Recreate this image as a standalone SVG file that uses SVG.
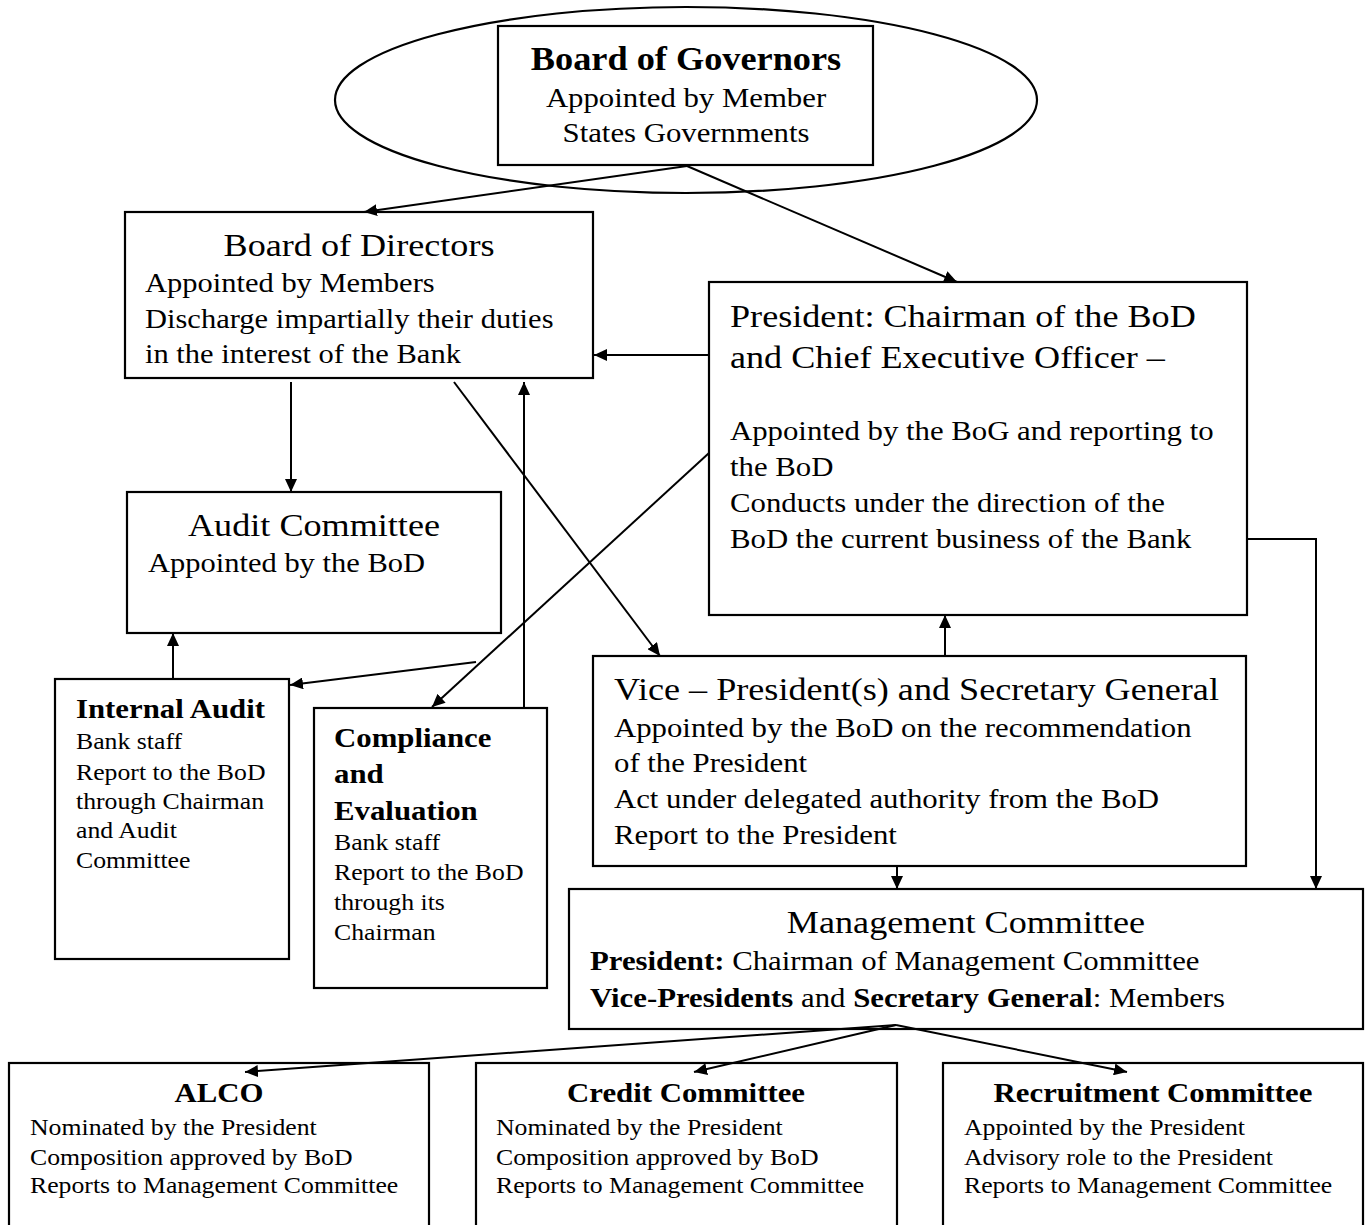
<svg xmlns="http://www.w3.org/2000/svg" width="1368" height="1225" viewBox="0 0 1368 1225">
<style>
text{font-family:"Liberation Serif","Times New Roman",serif;fill:#000}
.c{text-anchor:middle}
.b{font-weight:bold}
.s32{font-size:32px}
.s27{font-size:27px}
.s23{font-size:23px}
.b33{font-size:33px;font-weight:bold}
.b28{font-size:28px;font-weight:bold}
.box{fill:#fff;stroke:#000;stroke-width:2.2}
.ell{fill:none;stroke:#000;stroke-width:2.2}
.con{fill:none;stroke:#000;stroke-width:2;marker-end:url(#ah)}
</style>
<defs>
<marker id="ah" markerUnits="userSpaceOnUse" markerWidth="14" markerHeight="12" refX="13" refY="6" orient="auto">
<path d="M0,0 L13,6 L0,12 z" fill="#000"/>
</marker>
</defs>
<rect width="1368" height="1225" fill="#fff"/>

<g id="bog">
<ellipse class="ell" cx="686" cy="100" rx="351" ry="93"/>
<rect class="box" x="498" y="26" width="375" height="139"/>
<text class="b33 c" transform="translate(686,70) scale(1.1,1)">Board of Governors</text>
<text class="s27 c" transform="translate(686,107) scale(1.14,1)">Appointed by Member</text>
<text class="s27 c" transform="translate(686,142) scale(1.14,1)">States Governments</text>
</g>

<g id="bod">
<rect class="box" x="125" y="212" width="468" height="166"/>
<text class="s32 c" transform="translate(359,256) scale(1.13,1)">Board of Directors</text>
<text class="s27" transform="translate(145,292) scale(1.13,1)">Appointed by Members</text>
<text class="s27" transform="translate(145,328) scale(1.13,1)">Discharge impartially their duties</text>
<text class="s27" transform="translate(145,363) scale(1.13,1)">in the interest of the Bank</text>
</g>

<g id="president">
<rect class="box" x="709" y="282" width="538" height="333"/>
<text class="s32" transform="translate(730,327) scale(1.13,1)">President: Chairman of the BoD</text>
<text class="s32" transform="translate(730,368) scale(1.13,1)">and Chief Executive Officer –</text>
<text class="s27" transform="translate(730,440) scale(1.14,1)">Appointed by the BoG and reporting to</text>
<text class="s27" transform="translate(730,476) scale(1.14,1)">the BoD</text>
<text class="s27" transform="translate(730,512) scale(1.14,1)">Conducts under the direction of the</text>
<text class="s27" transform="translate(730,548) scale(1.14,1)">BoD the current business of the Bank</text>
</g>

<g id="audit-committee">
<rect class="box" x="127" y="492" width="374" height="141"/>
<text class="s32 c" transform="translate(314,536) scale(1.13,1)">Audit Committee</text>
<text class="s27" transform="translate(148,572) scale(1.13,1)">Appointed by the BoD</text>
</g>

<g id="internal-audit">
<rect class="box" x="55" y="679" width="234" height="280"/>
<text class="b28" transform="translate(76,718) scale(1.1,1)">Internal Audit</text>
<text class="s23" transform="translate(76,749) scale(1.12,1)">Bank staff</text>
<text class="s23" transform="translate(76,780) scale(1.12,1)">Report to the BoD</text>
<text class="s23" transform="translate(76,809) scale(1.12,1)">through Chairman</text>
<text class="s23" transform="translate(76,838) scale(1.12,1)">and Audit</text>
<text class="s23" transform="translate(76,868) scale(1.12,1)">Committee</text>
</g>

<g id="compliance">
<rect class="box" x="314" y="708" width="233" height="280"/>
<text class="b28" transform="translate(334,747) scale(1.1,1)">Compliance</text>
<text class="b28" transform="translate(334,783) scale(1.1,1)">and</text>
<text class="b28" transform="translate(334,820) scale(1.1,1)">Evaluation</text>
<text class="s23" transform="translate(334,850) scale(1.12,1)">Bank staff</text>
<text class="s23" transform="translate(334,880) scale(1.12,1)">Report to the BoD</text>
<text class="s23" transform="translate(334,910) scale(1.12,1)">through its</text>
<text class="s23" transform="translate(334,940) scale(1.12,1)">Chairman</text>
</g>

<g id="vice-president">
<rect class="box" x="593" y="656" width="653" height="210"/>
<text class="s32" transform="translate(614,700) scale(1.13,1)">Vice – President(s) and Secretary General</text>
<text class="s27" transform="translate(614,737) scale(1.14,1)">Appointed by the BoD on the recommendation</text>
<text class="s27" transform="translate(614,772) scale(1.14,1)">of the President</text>
<text class="s27" transform="translate(614,808) scale(1.14,1)">Act under delegated authority from the BoD</text>
<text class="s27" transform="translate(614,844) scale(1.14,1)">Report to the President</text>
</g>

<g id="management-committee">
<rect class="box" x="569" y="889" width="794" height="140"/>
<text class="s32 c" transform="translate(966,933) scale(1.13,1)">Management Committee</text>
<text class="s27" transform="translate(590,970) scale(1.14,1)"><tspan class="b">President:</tspan> Chairman of Management Committee</text>
<text class="s27" transform="translate(590,1007) scale(1.14,1)"><tspan class="b">Vice-Presidents</tspan> and <tspan class="b">Secretary General</tspan>: Members</text>
</g>

<g id="alco">
<rect class="box" x="9" y="1063" width="420" height="180"/>
<text class="b28 c" transform="translate(219,1102) scale(1.1,1)">ALCO</text>
<text class="s23" transform="translate(30,1135) scale(1.12,1)">Nominated by the President</text>
<text class="s23" transform="translate(30,1165) scale(1.12,1)">Composition approved by BoD</text>
<text class="s23" transform="translate(30,1193) scale(1.12,1)">Reports to Management Committee</text>
</g>

<g id="credit-committee">
<rect class="box" x="476" y="1063" width="421" height="180"/>
<text class="b28 c" transform="translate(686,1102) scale(1.1,1)">Credit Committee</text>
<text class="s23" transform="translate(496,1135) scale(1.12,1)">Nominated by the President</text>
<text class="s23" transform="translate(496,1165) scale(1.12,1)">Composition approved by BoD</text>
<text class="s23" transform="translate(496,1193) scale(1.12,1)">Reports to Management Committee</text>
</g>

<g id="recruitment-committee">
<rect class="box" x="943" y="1063" width="420" height="180"/>
<text class="b28 c" transform="translate(1153,1102) scale(1.1,1)">Recruitment Committee</text>
<text class="s23" transform="translate(964,1135) scale(1.12,1)">Appointed by the President</text>
<text class="s23" transform="translate(964,1165) scale(1.12,1)">Advisory role to the President</text>
<text class="s23" transform="translate(964,1193) scale(1.12,1)">Reports to Management Committee</text>
</g>

<g id="connectors">
<line class="con" x1="687" y1="166" x2="364" y2="212"/>
<line class="con" x1="687" y1="166" x2="957" y2="282"/>
<line class="con" x1="709" y1="355" x2="594" y2="355"/>
<line class="con" x1="291" y1="382" x2="291" y2="492"/>
<line class="con" x1="524" y1="708" x2="524" y2="382"/>
<line class="con" x1="454" y1="382" x2="660" y2="656"/>
<line class="con" x1="709" y1="453" x2="432" y2="707"/>
<line class="con" x1="476" y1="662" x2="290" y2="685"/>
<line class="con" x1="173" y1="679" x2="173" y2="633"/>
<line class="con" x1="945" y1="656" x2="945" y2="615"/>
<line class="con" x1="897" y1="866" x2="897" y2="889"/>
<polyline class="con" points="1247,539 1316,539 1316,889"/>
<line class="con" x1="896" y1="1025" x2="245" y2="1072"/>
<line class="con" x1="896" y1="1025" x2="694" y2="1072"/>
<line class="con" x1="896" y1="1025" x2="1127" y2="1072"/>
</g>
</svg>
